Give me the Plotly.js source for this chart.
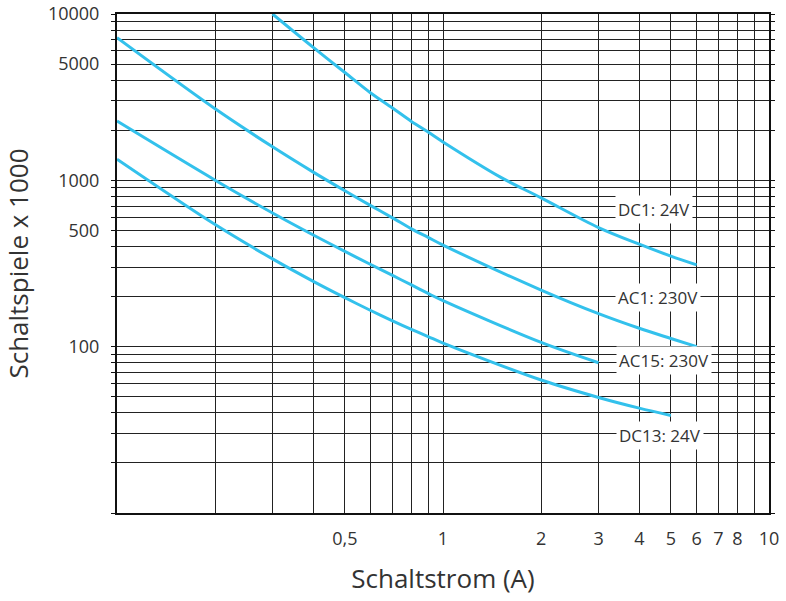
<!DOCTYPE html>
<html>
<head>
<meta charset="utf-8">
<script src="https://cdn.plot.ly/plotly-3.0.1.min.js"></script>
<style>html,body{margin:0;padding:0;background:#fff;}#chart{width:786px;height:601px;}</style>
</head>
<body>
<div id="chart"></div>
<script>
// Series (Schaltstrom in A, Schaltspiele x 1000)
const seriesNames = ['DC1: 24V', 'AC1: 230V', 'AC15: 230V', 'DC13: 24V'];
const dc1X = [0.3, 0.4, 0.5, 0.6, 0.7, 0.8, 0.9, 1, 1.5, 2, 3, 4, 5, 6];
const dc1Y = [10000, 6300, 4450, 3350, 2720, 2260, 1950, 1700, 1045, 785, 520, 413, 350, 310];
const ac1X = [0.1, 0.2, 0.3, 0.4, 0.5, 0.6, 0.7, 0.8, 0.9, 1, 2, 3, 4, 5, 6];
const ac1Y = [7200, 2690, 1590, 1120, 865, 705, 595, 511, 454, 408, 219, 158, 129, 112, 100];
const ac15X = [0.1, 0.2, 0.3, 0.4, 0.5, 0.6, 0.7, 0.8, 0.9, 1, 2, 3];
const ac15Y = [2270, 1002, 636, 469, 374, 312, 268, 235, 209, 189, 106, 80];
const dc13X = [0.1, 0.2, 0.3, 0.4, 0.5, 0.6, 0.7, 0.8, 0.9, 1, 2, 3, 4, 5];
const dc13Y = [1340, 542, 337, 247, 197, 165, 143, 127, 115, 105, 63, 49.5, 42.7, 38.6];

// Ticks / grid
const xTickVals = [0.1, 0.2, 0.3, 0.4, 0.5, 0.6, 0.7, 0.8, 0.9, 1, 2, 3, 4, 5, 6, 7, 8, 9, 10];
const xTickText = ['', '', '', '', '0,5', '', '', '', '', '1', '2', '3', '4', '5', '6', '7', '8', '', '10'];
const yTickVals = [10, 20, 30, 40, 50, 60, 70, 80, 90, 100, 200, 300, 400, 500, 600, 700, 800, 900,
                   1000, 2000, 3000, 4000, 5000, 6000, 7000, 8000, 9000, 10000];
const yTickText = ['', '', '', '', '', '', '', '', '', '100', '', '', '', '500', '', '', '', '',
                   '1000', '', '', '', '5000', '', '', '', '', '10000'];

const lineColor = '#33c1ec';
const font = 'Open Sans, Noto Sans, sans-serif';

function tr(x, y, name) {
  return {x: x, y: y, name: name, type: 'scatter', mode: 'lines',
          line: {color: lineColor, width: 3, shape: 'spline', smoothing: 0.9},
          showlegend: false, hoverinfo: 'x+y+name'};
}
const traces = [
  tr(dc1X, dc1Y, seriesNames[0]),
  tr(ac1X, ac1Y, seriesNames[1]),
  tr(ac15X, ac15Y, seriesNames[2]),
  tr(dc13X, dc13Y, seriesNames[3])
];

const labelPos = [[0.8236, 0.6078], [0.8298, 0.4315], [0.8390, 0.3052], [0.8328, 0.1549]];
const annotations = seriesNames.map((t, i) => ({
  text: t, xref: 'paper', yref: 'paper', x: labelPos[i][0], y: labelPos[i][1],
  xanchor: 'center', yanchor: 'middle', showarrow: false,
  bgcolor: '#ffffff', borderpad: 2,
  font: {family: font, size: 17, color: '#333'}
}));

const layout = {
  width: 786, height: 601,
  margin: {l: 117, r: 17, t: 14, b: 88},
  paper_bgcolor: '#ffffff', plot_bgcolor: '#ffffff',
  font: {family: font, color: '#333'},
  xaxis: {
    type: 'log', range: [-1, 1], tickmode: 'array', tickvals: xTickVals, ticktext: xTickText,
    showgrid: true, gridcolor: '#222', gridwidth: 1,
    showline: true, linecolor: '#111', linewidth: 2, mirror: true,
    ticks: '', ticklabelstandoff: 8,
    tickfont: {family: font, size: 18, color: '#333'},
    title: {text: 'Schaltstrom (A)', font: {family: font, size: 26, color: '#333'}, standoff: 21}
  },
  yaxis: {
    type: 'log', range: [1, 4], tickmode: 'array', tickvals: yTickVals, ticktext: yTickText,
    showgrid: true, gridcolor: '#222', gridwidth: 1,
    showline: true, linecolor: '#111', linewidth: 2, mirror: 'ticks',
    ticks: 'outside', ticklen: 4, tickcolor: '#111', tickwidth: 1, ticklabelstandoff: 8,
    tickfont: {family: font, size: 18, color: '#333'},
    title: {text: 'Schaltspiele x 1000', font: {family: font, size: 26, color: '#333'}, standoff: 12}
  },
  annotations: annotations
};

Plotly.newPlot('chart', traces, layout, {displayModeBar: false, staticPlot: true});
</script>
</body>
</html>
